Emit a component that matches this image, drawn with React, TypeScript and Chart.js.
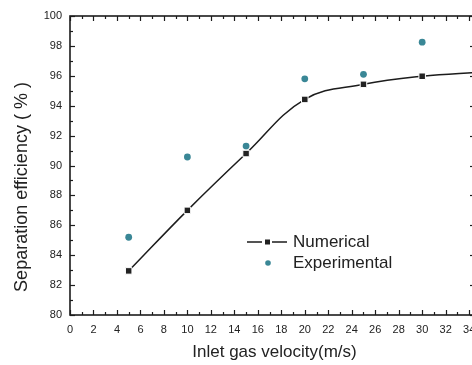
import React, { useEffect, useRef } from "react";
import { Chart, registerables } from "chart.js";

Chart.register(...registerables);

// ---- data ----
const velocity = [5, 10, 15, 20, 25, 30];
const numerical = [82.95, 87.0, 90.8, 94.42, 95.43, 95.97];
// the numerical curve continues past the right edge of the picture
const numericalTailX = [35];
const numericalTailY = [96.25];
const experimental = [85.2, 90.57, 91.3, 95.8, 96.1, 98.25];

const xTickLabels = ["0", "2", "4", "6", "8", "10", "12", "14", "16", "18", "20", "22", "24", "26", "28", "30", "32", "34"];
const yTickLabels = ["80", "82", "84", "86", "88", "90", "92", "94", "96", "98", "100"];

const xTitle = "Inlet gas velocity(m/s)";
const yTitle = "Separation efficiency ( % )";
const seriesNames = ["Numerical", "Experimental"];

const FONT = "'Liberation Sans', Arial, sans-serif";
const INK = "#1c1c1c";
const TEAL = "#3a8796";

const framePlugin = {
  id: "frameTicks",
  beforeDatasetsDraw(chart: any) {
    const { ctx, chartArea: a, scales } = chart;
    const x = scales.x;
    const y = scales.y;
    ctx.save();
    ctx.strokeStyle = INK;
    ctx.lineWidth = 1.6;
    ctx.strokeRect(a.left, a.top, a.right - a.left, a.bottom - a.top);
    ctx.lineWidth = 1.2;
    const seg = (x1: number, y1: number, x2: number, y2: number) => {
      ctx.beginPath();
      ctx.moveTo(x1, y1);
      ctx.lineTo(x2, y2);
      ctx.stroke();
    };
    for (let v = Math.ceil(x.min); v <= x.max; v++) {
      const px = Math.round(x.getPixelForValue(v)) + 0.5;
      const len = v % 2 === 0 ? 5 : 3;
      seg(px, a.bottom, px, a.bottom - len);
      seg(px, a.top, px, a.top + len);
    }
    for (let v = Math.ceil(y.min); v <= y.max; v++) {
      const py = Math.round(y.getPixelForValue(v)) + 0.5;
      const len = v % 2 === 0 ? 5 : 3;
      seg(a.left, py, a.left + len, py);
      seg(a.right, py, a.right - len, py);
    }
    ctx.restore();
  },
  afterDraw(chart: any) {
    const { ctx, chartArea: a } = chart;
    ctx.save();
    ctx.fillStyle = "#222";
    // axis titles
    ctx.font = `17px ${FONT}`;
    ctx.textAlign = "center";
    ctx.textBaseline = "middle";
    ctx.fillText(xTitle, (a.left + a.right) / 2 + 2, 352);
    ctx.save();
    ctx.translate(22, 187);
    ctx.rotate(-Math.PI / 2);
    ctx.font = `18px ${FONT}`;
    ctx.fillText(yTitle, 0, 0);
    ctx.restore();

    // legend
    const lx = 247;
    const ly1 = 242;
    const ly2 = 263;
    ctx.strokeStyle = INK;
    ctx.lineWidth = 1.4;
    ctx.beginPath();
    ctx.moveTo(lx, ly1);
    ctx.lineTo(lx + 15, ly1);
    ctx.moveTo(lx + 25, ly1);
    ctx.lineTo(lx + 40, ly1);
    ctx.stroke();
    ctx.fillStyle = "#222";
    ctx.fillRect(lx + 18, ly1 - 2.5, 5, 5);
    ctx.fillStyle = TEAL;
    ctx.beginPath();
    ctx.arc(lx + 21, ly2, 2.8, 0, Math.PI * 2);
    ctx.fill();
    ctx.fillStyle = "#222";
    ctx.font = `17px ${FONT}`;
    ctx.textAlign = "left";
    ctx.fillText(seriesNames[0], 293, ly1);
    ctx.fillText(seriesNames[1], 293, ly2);
    ctx.restore();
  },
};

export default function App() {
  const ref = useRef<HTMLCanvasElement | null>(null);

  useEffect(() => {
    if (!ref.current) return;
    const numPts = velocity
      .map((v, i) => ({ x: v, y: numerical[i] }))
      .concat(numericalTailX.map((v, i) => ({ x: v, y: numericalTailY[i] })));
    const expPts = velocity.map((v, i) => ({ x: v, y: experimental[i] }));
    const numRadius = numPts.map((_, i) => (i < velocity.length ? 4.6 : 0));

    const chart = new Chart(ref.current, {
      type: "line",
      data: {
        datasets: [
          {
            label: seriesNames[0],
            data: numPts,
            borderColor: INK,
            borderWidth: 1.5,
            tension: 0.4,
            pointStyle: "rect",
            pointRadius: numRadius,
            pointBackgroundColor: "#222",
            pointBorderColor: "#ffffff",
            pointBorderWidth: 1,
            fill: false,
          },
          {
            label: seriesNames[1],
            data: expPts,
            showLine: false,
            pointStyle: "circle",
            pointRadius: 3.4,
            pointBackgroundColor: TEAL,
            pointBorderColor: TEAL,
            pointBorderWidth: 0,
          },
        ],
      },
      options: {
        animation: false,
        responsive: false,
        devicePixelRatio: 1,
        layout: { padding: { top: 16, right: 15, left: 0, bottom: 0 } },
        plugins: {
          legend: { display: false },
          tooltip: { enabled: false },
          title: { display: false },
        },
        scales: {
          x: {
            type: "linear",
            min: 0,
            max: 34.5,
            grid: { display: false, drawTicks: false },
            border: { display: false },
            ticks: {
              stepSize: 2,
              includeBounds: false,
              autoSkip: false,
              maxRotation: 0,
              padding: 8,
              color: "#222",
              font: { family: FONT, size: 11 },
              callback: (v: any) => {
                const s = String(v);
                return xTickLabels.includes(s) ? s : "";
              },
            },
            afterFit: (s: any) => {
              s.height = 50;
            },
          },
          y: {
            type: "linear",
            min: 80,
            max: 100,
            grid: { display: false, drawTicks: false },
            border: { display: false },
            ticks: {
              stepSize: 2,
              autoSkip: false,
              padding: 8,
              color: "#222",
              font: { family: FONT, size: 11 },
              callback: (v: any) => {
                const s = String(v);
                return yTickLabels.includes(s) ? s : "";
              },
            },
            afterFit: (s: any) => {
              s.width = 70;
            },
          },
        },
      },
      plugins: [framePlugin],
    } as any);
    return () => chart.destroy();
  }, []);

  return (
    <div
      style={{
        position: "fixed",
        left: 0,
        top: 0,
        width: 472,
        height: 365,
        overflow: "hidden",
        background: "#ffffff",
      }}
    >
      <canvas ref={ref} width={490} height={365} style={{ display: "block" }} />
    </div>
  );
}
